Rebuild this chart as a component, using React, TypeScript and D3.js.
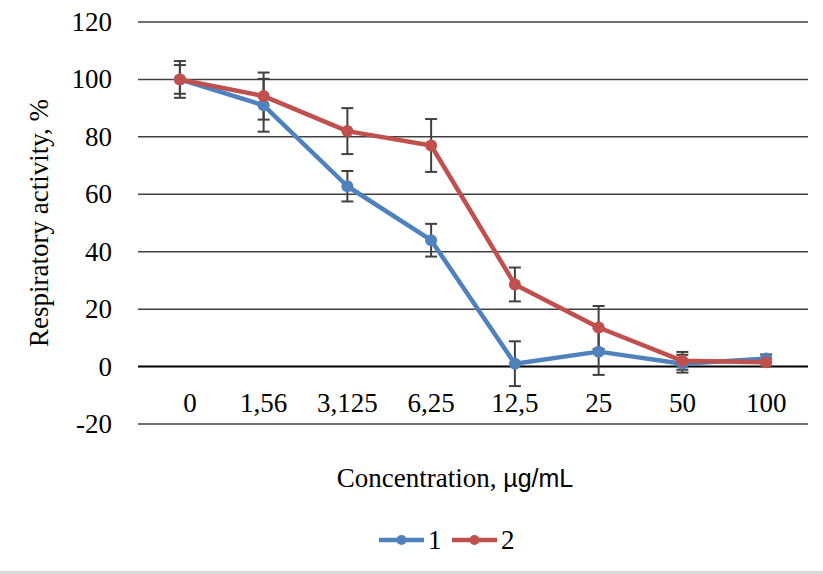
import React from "react";
import * as d3 from "d3";

const categories = ["0", "1,56", "3,125", "6,25", "12,5", "25", "50", "100"];
const series1 = [100, 91, 62.8, 44, 1, 5.2, 1, 2.8];
const series2 = [100, 94.2, 82, 77, 28.6, 13.6, 2, 1.5];
const err1 = [6.4, 9.2, 5.3, 5.7, 7.8, 8.1, 3.1, 1.4];
const err2 = [5, 8.2, 8, 9.2, 5.9, 7.5, 3.1, 1.4];
const yTicks = [-20, 0, 20, 40, 60, 80, 100, 120];
const seriesNames = ["1", "2"];
const colors = ["#4f81bd", "#c0504d"];

const W = 823;
const H = 574;
const left = 138;
const right = 808;
const top = 22;
const bottom = 424;

export default function App() {
  const x = d3.scaleBand<string>().domain(categories).range([left, right]);
  const y = d3.scaleLinear().domain([-20, 120]).range([bottom, top]);
  const cx = (c: string) => (x(c) ?? 0) + x.bandwidth() / 2;

  const line = d3
    .line<number>()
    .x((_, i) => cx(categories[i]))
    .y((d) => y(d));

  const all = [
    { values: series1, errs: err1, color: colors[0] },
    { values: series2, errs: err2, color: colors[1] },
  ];

  const font = "'Liberation Serif', 'Times New Roman', serif";

  return (
    <svg width={W} height={H} style={{ position: "absolute", left: 0, top: 0, background: "#fff" }}>
      <rect x={0} y={571} width={W} height={3} fill="#d9d9d9" />
      {yTicks.map((t) => (
        <g key={t}>
          <line
            x1={left}
            x2={right}
            y1={y(t)}
            y2={y(t)}
            stroke={t === 0 ? "#000" : "#404040"}
            strokeWidth={t === 0 ? 2 : 1.5}
          />
          <text x={112} y={y(t) + 9} textAnchor="end" fontFamily={font} fontSize={27} fill="#000">
            {t}
          </text>
        </g>
      ))}
      {categories.map((c, i) => (
        <text
          key={c}
          x={cx(c) + (i === 0 ? 10 : 0)}
          y={412}
          textAnchor="middle"
          fontFamily={font}
          fontSize={27}
          fill="#000"
        >
          {c}
        </text>
      ))}
      {all.map((s, si) =>
        s.values.map((v, i) => {
          const px = cx(categories[i]);
          const y1 = y(v + s.errs[i]);
          const y2 = y(v - s.errs[i]);
          return (
            <g key={`e${si}-${i}`} stroke="#404040" strokeWidth={2}>
              <line x1={px} x2={px} y1={y1} y2={y2} />
              <line x1={px - 6} x2={px + 6} y1={y1} y2={y1} />
              <line x1={px - 6} x2={px + 6} y1={y2} y2={y2} />
            </g>
          );
        })
      )}
      {all.map((s, si) => (
        <g key={`s${si}`}>
          <path d={line(s.values) ?? ""} fill="none" stroke={s.color} strokeWidth={4.5} strokeLinejoin="round" />
          {s.values.map((v, i) => (
            <circle key={i} cx={cx(categories[i])} cy={y(v)} r={6} fill={s.color} />
          ))}
        </g>
      ))}
      <text
        transform={`translate(48, ${(top + bottom) / 2}) rotate(-90)`}
        textAnchor="middle"
        fontFamily={font}
        fontSize={27}
        fill="#000"
      >
        Respiratory activity, %
      </text>
      <text x={455} y={487} textAnchor="middle" fontFamily={font} fontSize={27} fill="#000">
        Concentration,{" "}
        <tspan fontFamily="'Liberation Sans', Arial, sans-serif" fontSize={25}>
          µg/mL
        </tspan>
      </text>
      {seriesNames.map((n, i) => {
        const lx = 379 + i * 73;
        return (
          <g key={n}>
            <line x1={lx} x2={lx + 45} y1={540} y2={540} stroke={colors[i]} strokeWidth={4.5} />
            <circle cx={lx + 22.5} cy={540} r={5} fill={colors[i]} />
            <text x={lx + 49} y={549} fontFamily={font} fontSize={27} fill="#000">
              {n}
            </text>
          </g>
        );
      })}
    </svg>
  );
}
